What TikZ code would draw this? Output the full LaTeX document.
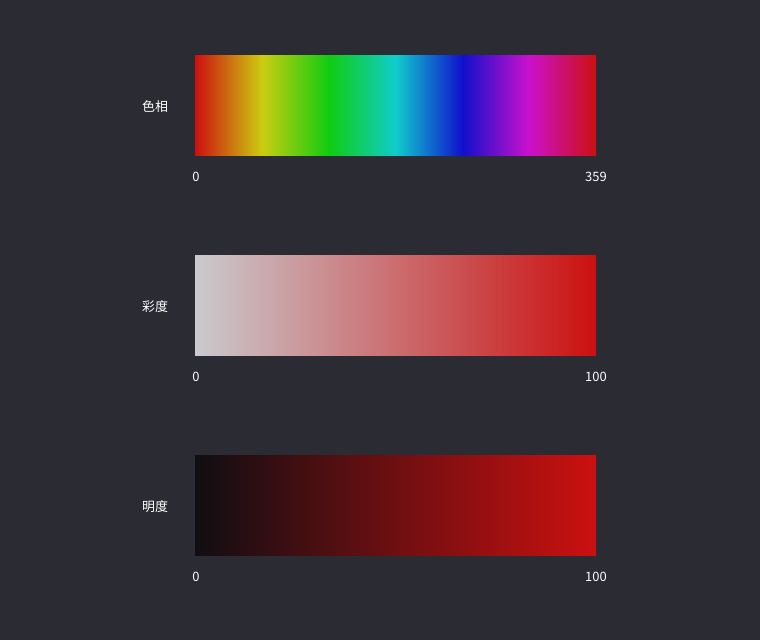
\documentclass[tikz,border=0pt]{standalone}
\usepackage{fontspec}
\setmainfont{Noto Sans CJK SC}
\usepackage{xcolor}
\usetikzlibrary{calc, positioning}

\definecolor{bgdark}{RGB}{42,43,51}
\definecolor{hr}{RGB}{204,16,16}
\definecolor{hy}{RGB}{204,204,16}
\definecolor{hg}{RGB}{16,204,16}
\definecolor{hc}{RGB}{16,204,204}
\definecolor{hb}{RGB}{16,16,204}
\definecolor{hm}{RGB}{204,16,204}
\definecolor{sgray}{RGB}{202,202,206}
\definecolor{vblack}{RGB}{16,14,18}

\pgfdeclarehorizontalshading{hue}{100bp}{color(0bp)=(hr); color(25bp)=(hr);
  color(33.333bp)=(hy); color(41.667bp)=(hg); color(50bp)=(hc);
  color(58.333bp)=(hb); color(66.667bp)=(hm); color(75bp)=(hr); color(100bp)=(hr)}
\pgfdeclarehorizontalshading{sat}{100bp}{color(0bp)=(sgray); color(25bp)=(sgray);
  color(75bp)=(hr); color(100bp)=(hr)}
\pgfdeclarehorizontalshading{val}{100bp}{color(0bp)=(vblack); color(25bp)=(vblack);
  color(75bp)=(hr); color(100bp)=(hr)}

\begin{document}
\begin{tikzpicture}[
    txt/.style={text=white, font=\fontsize{9.2}{11}\selectfont, inner sep=0pt}
]
    % hintergrund
    \fill[bgdark] (0,0) rectangle (19,16);
    \useasboundingbox (0,0) rectangle (19,16);

    % drei balken mit beschriftung
    \foreach \i/\name/\sh/\maxv in {0/色相/hue/359, 1/彩度/sat/100, 2/明度/val/100} {
        \shade[shading=\sh] (4.875,{12.1-5*\i}) rectangle (14.9,{14.6-5*\i});
        \node[txt] (lab\i) at (3.875,{13.33-5*\i}) {\name};
        \node[txt] (min\i) at (4.9,{11.58-5*\i}) {0};
        \node[txt] (max\i) at (14.9,{11.58-5*\i}) {\maxv};
    }
\end{tikzpicture}
\end{document}
